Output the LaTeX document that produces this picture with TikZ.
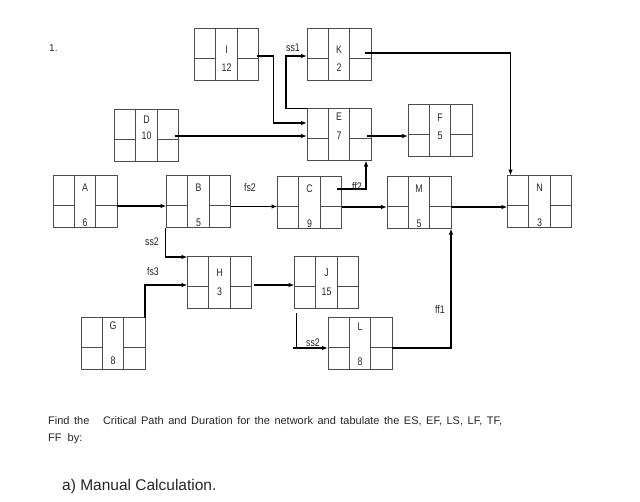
\documentclass[tikz,border=0pt]{standalone}
\usepackage{fontspec}
\setmainfont{Liberation Sans}
\newfontfamily\cond[FakeStretch=0.8]{Liberation Sans}
\usetikzlibrary{calc,arrows.meta}
\tikzset{
 actbox/.style={draw=black!70, line width=1pt, minimum width=64pt, minimum height=52pt, inner sep=0pt, outer sep=0pt,
   path picture={
     \coordinate (pnw) at (path picture bounding box.north west);
     \draw[black!70, line width=1pt] ([xshift=21.33pt]pnw) -- ++(0pt,-52pt) ([xshift=42.67pt]pnw) -- ++(0pt,-52pt)
       ([yshift=-30pt]pnw) -- ++(21.33pt,0pt) ([xshift=42.67pt,yshift=-30pt]pnw) -- ++(21.33pt,0pt);
   }},
 lbl/.style={font=\cond\fontsize{11}{13}\selectfont, inner sep=0pt, text=black!85},
 conn/.style={line width=1.1pt, -{Latex[length=6pt,width=4.5pt]}},
 heavy/.style={line width=1.6pt},
 txt/.style={anchor=base west, inner sep=0pt, text=black!85},
}
\newcommand\actnode[7]{%
 \node[actbox] (#1) at (#2,#3) {};
 \node[lbl] (#1n) at ($(#1.center)+(0,#6)$) {#4};
 \node[lbl] (#1d) at ($(#1.center)+(0,#7)$) {#5};
}
\begin{document}
\begin{tikzpicture}[x=1pt,y=-1pt]
\useasboundingbox[fill=white] (0,0) rectangle (640,501);
\actnode{I}{226.5}{54}{I}{12}{-4}{14}
\actnode{K}{339}{54}{K}{2}{-4}{14}
\actnode{D}{146.5}{135}{D}{10}{-15}{1}
\actnode{E}{339}{134.5}{E}{7}{-18}{1.5}
\actnode{F}{440}{130}{F}{5}{-12}{6}
\actnode{A}{85}{201.5}{A}{6}{-14}{21}
\actnode{B}{198.5}{201.5}{B}{5}{-14}{21}
\actnode{C}{309.5}{202.5}{C}{9}{-14}{21}
\actnode{M}{419}{202.5}{M}{5}{-14}{21}
\actnode{N}{539.5}{201.5}{N}{3}{-14}{21}
\actnode{H}{219.5}{282}{H}{3}{-9}{10}
\actnode{J}{326.5}{282}{J}{15}{-9}{10}
\actnode{G}{113}{343.5}{G}{8}{-17.5}{17.5}
\actnode{L}{360}{343.5}{L}{8}{-16.5}{18.5}

% connectors
\draw[conn] ([xshift=-2pt,yshift=-2pt]I.east) -- ++(17,0) |- ([yshift=11.5pt]E.west);
\draw[conn] (E.north west) -- ++(-21,0) |- ([yshift=-2pt]K.west);
\node[lbl] (ss1) at (293,48) {ss1};
\draw[conn] ([xshift=-6pt,yshift=1pt]K.east) -| ([xshift=3pt]N.north west);
\draw[conn] ([xshift=-4pt,yshift=-1pt]D.east) coordinate (d1) -- (d1 -| E.west);
\draw[conn] ([xshift=-4pt,yshift=-1.5pt]E.east) coordinate (e1) -- (e1 -| F.west);
\draw[conn,heavy] ([yshift=-4.5pt]A.east) coordinate (a1) -- (a1 -| B.west);
\draw[conn,heavy] ([yshift=-5pt]B.east) coordinate (b1) -- (b1 -| C.west);
\node[lbl] (fs2) at (250,188) {fs2};
\draw[conn,heavy] ([yshift=-4.5pt]C.east) coordinate (c1) -- (c1 -| M.west);
\draw[conn] ([xshift=-5pt,yshift=13.5pt]C.east) -| ([xshift=-5pt]E.south east);
\node[lbl] (ff2) at (357,187) {ff2};
\draw[conn,heavy] ([yshift=-4.5pt]M.east) coordinate (m1) -- (m1 -| N.west);
\draw[conn,heavy] ([xshift=-1pt]B.south west) |- ([yshift=-1pt]H.north west);
\node[lbl] (ss2a) at (152,242) {ss2};
\draw[conn] (G.north east) |- ([yshift=-3pt]H.west);
\node[lbl] (fs3) at (153,272) {fs3};
\draw[conn,heavy] ([xshift=2pt,yshift=-3pt]H.east) coordinate (h1) -- (h1 -| J.west);
\path ([yshift=-4.5pt]L.west) coordinate (l1);
\draw[conn] ([xshift=2pt,yshift=-5pt]J.south west) |- (l1);
\draw[line width=1.1pt] ($(l1 -| J.south west)+(-1.5,0)$) -- ($(l1 -| J.south west)+(2.5,0)$);
\node[lbl] (ss2b) at (313,343) {ss2};
\draw[conn] ([yshift=-4.5pt]L.east) -| (M.south east);
\node[lbl] (ff1) at (440,310) {ff1};

% texts
\node[txt, font=\fontsize{10}{12}\selectfont] (num) at (49,51) {1.};
\node[txt, font=\fontsize{11}{13}\selectfont] (q1) at (48,424) {\makebox[454pt][s]{Find the \ \ Critical Path and Duration for the network and tabulate the ES, EF, LS, LF, TF,}};
\node[txt, font=\fontsize{11}{13}\selectfont] (q2) at (48,441) {FF \ by:};
\node[txt, font=\fontsize{15.5}{18}\selectfont] (q3) at (62,490) {a) Manual Calculation.};
\end{tikzpicture}
\end{document}
